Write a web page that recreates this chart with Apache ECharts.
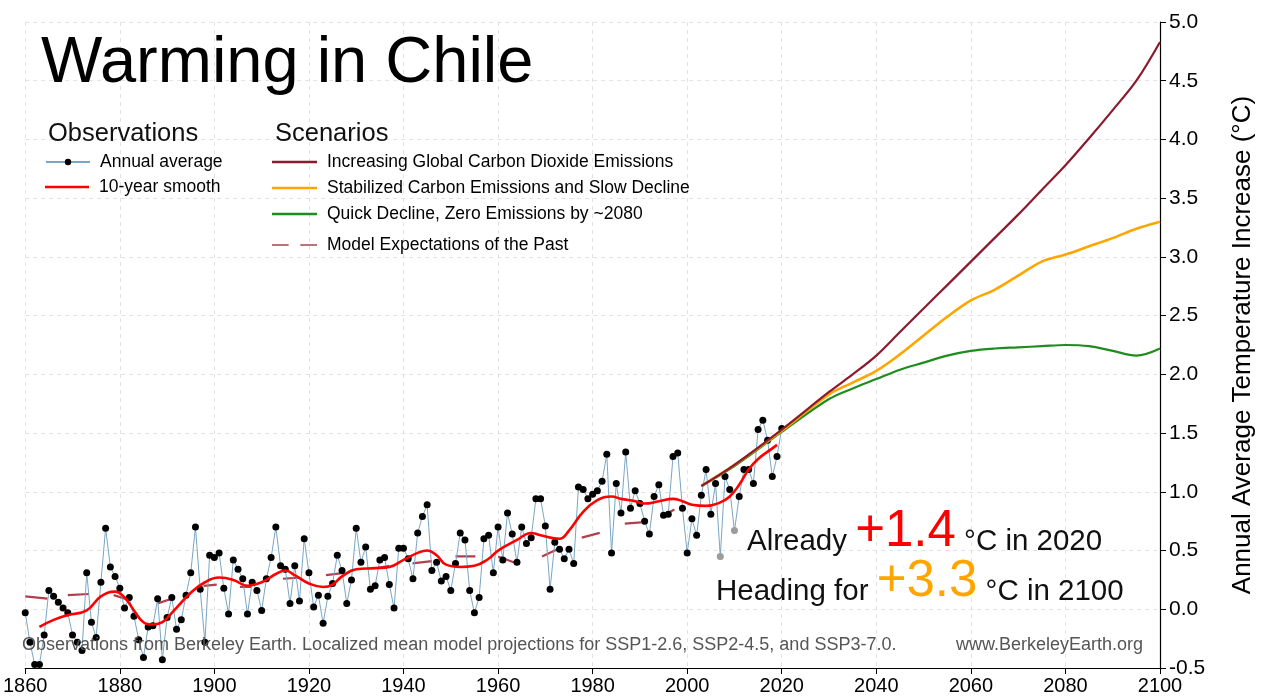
<!DOCTYPE html>
<html>
<head>
<meta charset="utf-8">
<title>Warming in Chile</title>
<script src="https://cdn.jsdelivr.net/npm/echarts@6/dist/echarts.min.js"></script>
<style>
  html, body { margin: 0; padding: 0; background: #fff; }
  #chart { width: 1264px; height: 700px; }
</style>
</head>
<body>
<div id="chart"></div>
<script>
// ---- Annual average temperature anomaly, 1860-2020 (°C) ----
const annualStart = 1860;
const annualValues = [
  -0.03, -0.28, -0.47, -0.47, -0.22, 0.16, 0.11, 0.06, 0.01, -0.03,   // 1860s
  -0.22, -0.28, -0.35, 0.31, -0.11, -0.24, 0.23, 0.69, 0.36, 0.28,    // 1870s
  0.18, 0.01, 0.10, -0.06, -0.26, -0.41, -0.15, -0.14, 0.09, -0.43,   // 1880s
  -0.07, 0.10, -0.17, -0.09, 0.12, 0.31, 0.70, 0.17, -0.28, 0.46,     // 1890s
  0.44, 0.48, 0.18, -0.04, 0.42, 0.34, 0.26, -0.04, 0.23, 0.16,       // 1900s
  -0.01, 0.26, 0.44, 0.70, 0.37, 0.34, 0.05, 0.37, 0.07, 0.60,        // 1910s
  0.31, 0.02, 0.12, -0.12, 0.11, 0.22, 0.46, 0.33, 0.05, 0.25,        // 1920s
  0.69, 0.40, 0.53, 0.17, 0.20, 0.42, 0.44, 0.21, 0.01, 0.52,         // 1930s
  0.52, 0.43, 0.26, 0.65, 0.79, 0.89, 0.33, 0.40, 0.24, 0.28,         // 1940s
  0.16, 0.39, 0.65, 0.59, 0.16, -0.03, 0.10, 0.60, 0.63, 0.31,        // 1950s
  0.70, 0.42, 0.82, 0.64, 0.40, 0.70, 0.56, 0.61, 0.94, 0.94,         // 1960s
  0.71, 0.17, 0.57, 0.51, 0.43, 0.51, 0.39, 1.04, 1.02, 0.94,         // 1970s
  0.98, 1.01, 1.09, 1.32, 0.48, 1.07, 0.82, 1.34, 0.86, 1.01,         // 1980s
  0.90, 0.75, 0.64, 0.96, 1.06, 0.80, 0.81, 1.30, 1.33, 0.86,         // 1990s
  0.48, 0.77, 0.63, 0.97, 1.19, 0.81, 1.07, 0.45, 1.13, 1.02,         // 2000s
  0.67, 0.96, 1.19, 1.19, 1.07, 1.53, 1.61, 1.44, 1.13, 1.30,         // 2010s
  1.54                                                                // 2020
];
// years with incomplete records, drawn in grey
const partialYears = [2007, 2010];

// ---- 10-year smoothed record ----
const smoothYears = [1863, 1866, 1869, 1873, 1876, 1879, 1881, 1883, 1885, 1887, 1889, 1891,
  1895, 1898, 1901, 1904, 1907, 1910, 1913, 1915, 1917, 1920, 1923, 1925, 1927, 1930, 1934,
  1937, 1940, 1943, 1945, 1947, 1949, 1952, 1955, 1958, 1960, 1964, 1967, 1969, 1973, 1975,
  1978, 1981, 1984, 1986, 1989, 1991, 1994, 1997, 1999, 2001, 2004, 2007, 2009, 2011, 2013,
  2015, 2018, 2019];
const smoothValues = [-0.15, -0.09, -0.05, -0.01, 0.11, 0.15, 0.10, -0.01, -0.11, -0.13, -0.11, -0.03,
  0.14, 0.23, 0.27, 0.25, 0.20, 0.23, 0.30, 0.33, 0.29, 0.22, 0.19, 0.21, 0.28, 0.34, 0.35,
  0.36, 0.42, 0.48, 0.50, 0.46, 0.38, 0.36, 0.37, 0.43, 0.50, 0.59, 0.65, 0.63, 0.60, 0.67,
  0.83, 0.93, 0.96, 0.94, 0.92, 0.90, 0.92, 0.94, 0.92, 0.89, 0.88, 0.91, 0.96, 1.06, 1.19,
  1.28, 1.37, 1.40];

// ---- Model expectations of the past (short segments; null = gap) ----
const modelYears = [1860, 1864.7, 1866, 1869, 1873.5, 1876, 1878.7, 1882, 1885, 1888, 1891, 1894,
  1897.7, 1900.5, 1903, 1905.4, 1907.9, 1911, 1914.5, 1918, 1921, 1923.6, 1927.5, 1931, 1934.5,
  1937, 1939, 1941.9, 1946, 1948, 1951, 1955.2, 1958, 1960, 1964, 1967, 1969.3, 1973, 1975,
  1977.7, 1981.5, 1984, 1986.8, 1990.3, 1992, 1994.5, 1997.3];
const modelValues = [0.11, 0.09, null, 0.12, 0.13, null, 0.12, 0.08, null, 0.05, 0.09, null,
  0.20, 0.21, null, 0.19, 0.19, null, 0.26, 0.27, null, 0.29, 0.31, null, 0.35,
  0.37, null, 0.39, 0.41, null, 0.45, 0.45, null, 0.45, 0.39, null, 0.45, 0.52, null,
  0.61, 0.65, null, 0.73, 0.74, null, 0.79, 0.85];

// ---- Scenario projections ----
const scenarioYears = [2003, 2010, 2020, 2030, 2035, 2040, 2045, 2050, 2055, 2060, 2065, 2070,
  2075, 2080, 2085, 2090, 2095, 2100];
const ssp370 = [1.05, 1.23, 1.53, 1.85, 2.00, 2.16, 2.36, 2.56, 2.76, 2.96, 3.16, 3.36,
  3.57, 3.78, 4.01, 4.25, 4.50, 4.83];
const ssp245 = [1.05, 1.23, 1.52, 1.83, 1.93, 2.03, 2.17, 2.33, 2.49, 2.63, 2.72, 2.84,
  2.96, 3.02, 3.09, 3.16, 3.24, 3.30];
const ssp126 = [1.05, 1.22, 1.51, 1.79, 1.88, 1.96, 2.04, 2.10, 2.16, 2.20, 2.22, 2.23,
  2.24, 2.25, 2.24, 2.20, 2.16, 2.22];

// ---- Axis ticks ----
const xTicks = { min: 1860, max: 2100, step: 20 };
const yTicks = { min: -0.5, max: 5.0, step: 0.5 };

// ---- Labels ----
const names = {
  annual: 'Annual average',
  smooth: '10-year smooth',
  high: 'Increasing Global Carbon Dioxide Emissions',
  mid: 'Stabilized Carbon Emissions and Slow Decline',
  low: 'Quick Decline, Zero Emissions by ~2080',
  model: 'Model Expectations of the Past'
};

const FONT = '"Liberation Sans", Arial, Helvetica, sans-serif';
const pair = (xs, ys) => xs.map((x, i) => [x, ys[i] === null ? '-' : ys[i]]);

const annualData = annualValues.map((v, i) => {
  const yr = annualStart + i;
  const item = { value: [yr, v] };
  if (partialYears.includes(yr)) item.itemStyle = { color: '#9c9c9c' };
  return item;
});

const nowValue = smoothValues[smoothValues.length - 1];
const nowYear = annualStart + annualValues.length - 1;
const futureValue = ssp245[ssp245.length - 1];
const futureYear = scenarioYears[scenarioYears.length - 1];

const chart = echarts.init(document.getElementById('chart'), null, { renderer: 'canvas' });

const legendText = { fontFamily: FONT, fontSize: 17.5, color: '#000', padding: [0, 0, 0, 5] };
const legendBase = { orient: 'vertical', padding: 0, selectedMode: false, textStyle: legendText };
// flat bar icon for plain lines, two bars for the dashed entry
const barIcon = 'rect';
const dashIcon = 'path://M0,0h10v1h-10z M17,0h10v1h-10z';

chart.setOption({
  backgroundColor: '#ffffff',
  animation: false,
  textStyle: { fontFamily: FONT },
  grid: { left: 21, right: 104, top: 22, bottom: 32, containLabel: false },
  title: [
    { text: 'Warming in Chile', left: 36, top: 27,
      textStyle: { fontFamily: FONT, fontSize: 65, fontWeight: 'normal', color: '#000' } },
    { text: 'Observations', left: 43, top: 116,
      textStyle: { fontFamily: FONT, fontSize: 25.5, fontWeight: 'normal', color: '#111' } },
    { text: 'Scenarios', left: 270, top: 116,
      textStyle: { fontFamily: FONT, fontSize: 25.5, fontWeight: 'normal', color: '#111' } }
  ],
  legend: [
    Object.assign({}, legendBase, { left: 45, top: 153, itemWidth: 44, itemHeight: 8,
      data: [names.annual] }),
    Object.assign({}, legendBase, { left: 45, top: 178, itemWidth: 44, itemHeight: 2.5,
      icon: barIcon, data: [names.smooth] }),
    Object.assign({}, legendBase, { left: 272, top: 153, itemWidth: 45, itemHeight: 2.5,
      itemGap: 8, icon: barIcon, data: [names.high, names.mid, names.low] }),
    Object.assign({}, legendBase, { left: 272, top: 236, itemWidth: 45, itemHeight: 2.5,
      icon: dashIcon, data: [names.model] })
  ],
  xAxis: {
    type: 'value', min: xTicks.min, max: xTicks.max, interval: xTicks.step,
    axisLine: { show: true, onZero: false, lineStyle: { color: '#000', width: 1.2 } },
    axisTick: { show: true, length: 6, lineStyle: { color: '#000' } },
    axisLabel: { fontFamily: FONT, fontSize: 20, color: '#000', margin: 8,
      formatter: v => String(v) },
    splitLine: { show: true, lineStyle: { color: '#e2e2e2', type: [4, 4], width: 1 } }
  },
  yAxis: {
    type: 'value', position: 'right', min: yTicks.min, max: yTicks.max, interval: yTicks.step,
    name: 'Annual Average Temperature Increase (°C)', nameLocation: 'middle', nameGap: 70,
    nameTextStyle: { fontFamily: FONT, fontSize: 26, color: '#000' },
    axisLine: { show: true, onZero: false, lineStyle: { color: '#000', width: 1.2 } },
    axisTick: { show: true, length: 6, lineStyle: { color: '#000' } },
    axisLabel: { fontFamily: FONT, fontSize: 21, color: '#000', margin: 9,
      formatter: v => v.toFixed(1) },
    splitLine: { show: true, lineStyle: { color: '#e2e2e2', type: [4, 4], width: 1 } }
  },
  series: [
    { name: names.model, type: 'line', data: pair(modelYears, modelValues),
      showSymbol: false, symbol: 'none', connectNulls: false, z: 2,
      lineStyle: { color: '#b0404f', width: 2.2 }, itemStyle: { color: '#b0404f' } },
    { name: names.annual, type: 'line', data: annualData, z: 3,
      symbol: 'circle', symbolSize: 7,
      lineStyle: { color: '#7aa6c4', width: 1 }, itemStyle: { color: '#000' } },
    { name: names.smooth, type: 'line', data: pair(smoothYears, smoothValues), z: 4,
      smooth: 0.45, showSymbol: false, symbol: 'none',
      lineStyle: { color: '#ff0000', width: 2.6 }, itemStyle: { color: '#ff0000' } },
    { name: names.low, type: 'line', data: pair(scenarioYears, ssp126), z: 5,
      smooth: 0.35, showSymbol: false, symbol: 'none',
      lineStyle: { color: '#1e8c1e', width: 2.2 }, itemStyle: { color: '#1e8c1e' } },
    { name: names.mid, type: 'line', data: pair(scenarioYears, ssp245), z: 6,
      smooth: 0.35, showSymbol: false, symbol: 'none',
      lineStyle: { color: '#ffa500', width: 2.6 }, itemStyle: { color: '#ffa500' } },
    { name: names.high, type: 'line', data: pair(scenarioYears, ssp370), z: 7,
      smooth: 0.35, showSymbol: false, symbol: 'none',
      lineStyle: { color: '#8b1a2e', width: 2.2 }, itemStyle: { color: '#8b1a2e' } }
  ],
  graphic: [
    { type: 'text', left: 747, top: 506, z: 20,
      style: {
        text: '{t|Already }{r|+' + nowValue.toFixed(1) + '}{t| °C in ' + nowYear + '}',
        rich: {
          t: { fontFamily: FONT, fontSize: 29.5, fill: '#111', verticalAlign: 'bottom' },
          r: { fontFamily: FONT, fontSize: 51, fill: '#ff0000', verticalAlign: 'bottom' }
        }
      } },
    { type: 'text', left: 716, top: 556, z: 20,
      style: {
        text: '{t|Heading for }{o|+' + futureValue.toFixed(1) + '}{t| °C in ' + futureYear + '}',
        rich: {
          t: { fontFamily: FONT, fontSize: 29.5, fill: '#111', verticalAlign: 'bottom' },
          o: { fontFamily: FONT, fontSize: 51, fill: '#ffa500', verticalAlign: 'bottom' }
        }
      } },
    { type: 'text', left: 22, top: 636, z: 20,
      style: { text: 'Observations from Berkeley Earth. Localized mean model projections for SSP1-2.6, SSP2-4.5, and SSP3-7.0.',
        fontFamily: FONT, fontSize: 18, fill: '#555' } },
    { type: 'text', right: 121, top: 636, z: 20,
      style: { text: 'www.BerkeleyEarth.org', fontFamily: FONT, fontSize: 18, fill: '#555' } }
  ]
});
</script>
</body>
</html>
